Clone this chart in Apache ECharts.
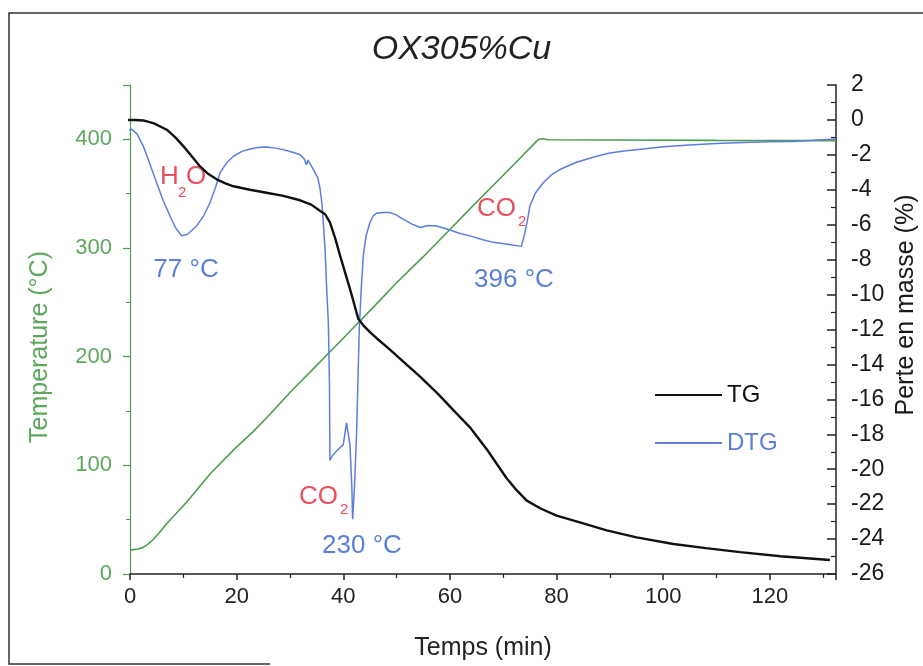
<!DOCTYPE html>
<html>
<head>
<meta charset="utf-8">
<script src="https://cdn.jsdelivr.net/npm/echarts@6/dist/echarts.min.js"></script>
<style>html,body{margin:0;padding:0;background:#fff;}#chart{width:923px;height:666px;}</style>
</head>
<body>
<div id="chart"></div>
<script>
// Temperature (°C), left axis: [time (min), T]
const temperature = [[0,22],[1.5,23],[2.5,24.5],[3.5,28],[4.4,32],[5.5,38],[7,47],[10.6,66],[15,92],[20,117],[23.1,131],[26.25,147],[30,167],[35.6,195],[40,217],[46.9,252],[50,268],[55,292],[60,317],[63.75,336],[70,367],[76.6,400],[77.3,400.6],[78.5,399.6],[90,399.4],[110,399],[132.4,398.8]];
// TG mass loss (%), right axis
const tg = [[-3.1,0],[1,0],[2.5,-0.03],[4.5,-0.2],[6.9,-0.56],[8.5,-1.0],[10,-1.5],[11.5,-2.05],[13.1,-2.65],[14.7,-3.1],[16.25,-3.4],[18,-3.65],[19.4,-3.8],[22.5,-4.0],[25.6,-4.17],[28.75,-4.35],[31.9,-4.6],[34,-4.85],[35.6,-5.2],[36.6,-5.4],[37.5,-5.87],[38.5,-6.8],[39.4,-7.77],[40.3,-8.7],[41.25,-9.67],[42,-10.5],[42.8,-11.38],[43.75,-11.76],[45,-12.15],[46.25,-12.5],[48.75,-13.15],[51.25,-13.84],[54.4,-14.7],[57.8,-15.7],[60.6,-16.6],[63.75,-17.6],[67,-18.9],[70.6,-20.5],[72.5,-21.2],[74.4,-21.8],[77,-22.25],[80,-22.66],[85,-23.1],[89.4,-23.5],[95,-23.9],[101.9,-24.28],[108,-24.52],[114.4,-24.75],[122,-24.98],[131.25,-25.2]];
// DTG (plotted in right-axis units)
const dtg = [[-3.1,-0.94],[-1.5,-0.7],[0.3,-0.53],[1.3,-0.8],[2.5,-1.5],[3.7,-2.5],[5,-3.6],[6.2,-4.6],[7.5,-5.5],[8.6,-6.2],[9.7,-6.64],[10.8,-6.55],[12.5,-6.07],[13.8,-5.5],[15,-4.74],[16,-3.9],[16.9,-3.03],[18,-2.5],[19.4,-2.08],[21,-1.8],[22.5,-1.66],[24,-1.58],[25.6,-1.55],[27,-1.6],[28.75,-1.7],[30.5,-1.85],[31.9,-1.99],[32.6,-2.2],[33.1,-2.56],[33.4,-2.3],[34.4,-2.84],[35.2,-3.3],[35.6,-3.85],[36,-4.8],[36.25,-5.87],[36.6,-7.5],[36.9,-9.8],[37.2,-11.6],[37.4,-15],[37.5,-19.5],[38,-19.2],[38.75,-18.96],[40,-18.59],[40.6,-17.35],[41.25,-18.59],[41.6,-21],[41.75,-22.86],[42.1,-21],[42.5,-17.9],[43,-11.9],[43.4,-9.5],[43.75,-7.77],[44.3,-6.6],[45,-5.87],[45.6,-5.5],[46.25,-5.34],[47.5,-5.3],[48.75,-5.3],[50,-5.45],[51.25,-5.69],[52.8,-5.95],[54.4,-6.16],[55.9,-6.05],[57.5,-6.07],[60,-6.3],[61.9,-6.5],[63.75,-6.64],[66,-6.85],[68.1,-7.01],[70.5,-7.1],[73.4,-7.24],[74,-6.54],[74.5,-5.8],[75,-4.93],[76,-4.2],[77.5,-3.6],[79,-3.15],[80.6,-2.84],[83.75,-2.42],[87,-2.12],[90,-1.89],[93,-1.76],[96.25,-1.66],[100,-1.54],[105.6,-1.42],[110,-1.35],[115,-1.29],[120,-1.25],[124.4,-1.23],[128,-1.17],[132.4,-1.09]];

const xTicks = {min: 0, max: 132.4, interval: 20};
const leftTicks = {min: 0, max: 450, interval: 100};
const rightTicks = {min: -26, max: 2, interval: 2};

const GREEN = '#4f9d4f', GREEN_TXT = '#5da85d', BLUE = '#5a7fe0', BLUE_TXT = '#5b7fd6', RED = '#e8505f';
const FONT = '"Liberation Sans", Arial, Helvetica, sans-serif';

const chart = echarts.init(document.getElementById('chart'), null, {renderer: 'canvas'});
chart.setOption({
  animation: false,
  backgroundColor: '#fff',
  textStyle: {fontFamily: FONT},
  title: {
    text: 'OX305%Cu', left: 'center', top: 33, padding: 0,
    textStyle: {fontSize: 34, fontStyle: 'italic', fontWeight: 'normal', color: '#222', fontFamily: FONT}
  },
  grid: {left: 130, right: 87, top: 85, bottom: 90, containLabel: false},
  legend: {
    orient: 'vertical', left: 650, top: 377, itemWidth: 67, itemHeight: 2, itemGap: 22,
    icon: 'rect',
    textStyle: {fontSize: 24, lineHeight: 26, fontFamily: FONT},
    data: [{name: 'TG', textStyle: {color: '#111'}}, {name: 'DTG', textStyle: {color: BLUE_TXT}}]
  },
  xAxis: {
    type: 'value', min: xTicks.min, max: xTicks.max, interval: xTicks.interval,
    name: 'Temps (min)', nameLocation: 'middle', nameGap: 62,
    nameTextStyle: {fontSize: 25, color: '#222', fontFamily: FONT},
    axisLine: {lineStyle: {color: '#222', width: 1.5}},
    axisTick: {inside: false, length: 6, lineStyle: {color: '#222', width: 1.5}},
    minorTick: {show: true, splitNumber: 2, length: 4, lineStyle: {color: '#222', width: 1.2}},
    axisLabel: {fontSize: 22, color: '#222', margin: 12, fontFamily: FONT, showMaxLabel: false},
    splitLine: {show: false}
  },
  yAxis: [{
    type: 'value', position: 'left', min: leftTicks.min, max: leftTicks.max, interval: leftTicks.interval,
    axisLine: {show: true, lineStyle: {color: GREEN, width: 1.2}},
    axisTick: {show: true, inside: false, length: 7, lineStyle: {color: GREEN, width: 1.2}},
    minorTick: {show: true, splitNumber: 2, length: 4, lineStyle: {color: GREEN, width: 1}},
    axisLabel: {fontSize: 22, color: GREEN_TXT, margin: 18, fontFamily: FONT, showMaxLabel: false},
    splitLine: {show: false}
  }, {
    type: 'value', position: 'right', min: rightTicks.min, max: rightTicks.max, interval: rightTicks.interval,
    axisLine: {show: true, lineStyle: {color: '#222', width: 1.5}},
    axisTick: {show: true, inside: true, length: 9, lineStyle: {color: '#222', width: 1.5}},
    minorTick: {show: true, splitNumber: 2, length: 5, lineStyle: {color: '#222', width: 1.2}},
    axisLabel: {fontSize: 23, color: '#1a1a1a', margin: 15, fontFamily: FONT},
    splitLine: {show: false}
  }],
  series: [{
    name: 'Temperature', type: 'line', yAxisIndex: 0, data: temperature, showSymbol: false, clip: false,
    lineStyle: {color: GREEN, width: 1.6}, itemStyle: {color: GREEN}
  }, {
    name: 'DTG', type: 'line', yAxisIndex: 1, data: dtg, showSymbol: false, clip: false,
    lineStyle: {color: BLUE, width: 1.5}, itemStyle: {color: BLUE}
  }, {
    name: 'TG', type: 'line', yAxisIndex: 1, data: tg, showSymbol: false, clip: false,
    lineStyle: {color: '#111', width: 2.4}, itemStyle: {color: '#111'}
  }],
  graphic: [
    // frame
    {type: 'polyline', silent: true, shape: {points: [[923, 13], [9, 13], [9, 664], [270, 664]]}, style: {stroke: '#333', lineWidth: 1.5, fill: null}},
    // axis names
    {type: 'text', x: 40, y: 347, rotation: Math.PI / 2, style: {text: 'Temperature (°C)', font: '25px ' + FONT, fill: GREEN_TXT, textAlign: 'center', textVerticalAlign: 'middle'}},
    {type: 'text', x: 906, y: 305, rotation: Math.PI / 2, style: {text: 'Perte en masse (%)', font: '25px ' + FONT, fill: '#1a1a1a', textAlign: 'center', textVerticalAlign: 'middle'}},
    // annotations
    {type: 'text', x: 160, y: 177, style: {text: 'H', font: '26px ' + FONT, fill: RED, textAlign: 'left', textVerticalAlign: 'middle'}},
    {type: 'text', x: 178, y: 193, style: {text: '2', font: '15px ' + FONT, fill: RED, textAlign: 'left', textVerticalAlign: 'middle'}},
    {type: 'text', x: 186, y: 177, style: {text: 'O', font: '26px ' + FONT, fill: RED, textAlign: 'left', textVerticalAlign: 'middle'}},
    {type: 'text', x: 186, y: 270, style: {text: '77 °C', font: '26px ' + FONT, fill: BLUE_TXT, textAlign: 'center', textVerticalAlign: 'middle'}},
    {type: 'text', x: 299, y: 497, style: {text: 'CO', font: '26px ' + FONT, fill: RED, textAlign: 'left', textVerticalAlign: 'middle'}},
    {type: 'text', x: 340, y: 510, style: {text: '2', font: '15px ' + FONT, fill: RED, textAlign: 'left', textVerticalAlign: 'middle'}},
    {type: 'text', x: 362, y: 546, style: {text: '230 °C', font: '26px ' + FONT, fill: BLUE_TXT, textAlign: 'center', textVerticalAlign: 'middle'}},
    {type: 'text', x: 477, y: 209, style: {text: 'CO', font: '26px ' + FONT, fill: RED, textAlign: 'left', textVerticalAlign: 'middle'}},
    {type: 'text', x: 518, y: 222, style: {text: '2', font: '15px ' + FONT, fill: RED, textAlign: 'left', textVerticalAlign: 'middle'}},
    {type: 'text', x: 514, y: 280, style: {text: '396 °C', font: '26px ' + FONT, fill: BLUE_TXT, textAlign: 'center', textVerticalAlign: 'middle'}}
  ]
});
</script>
</body>
</html>
